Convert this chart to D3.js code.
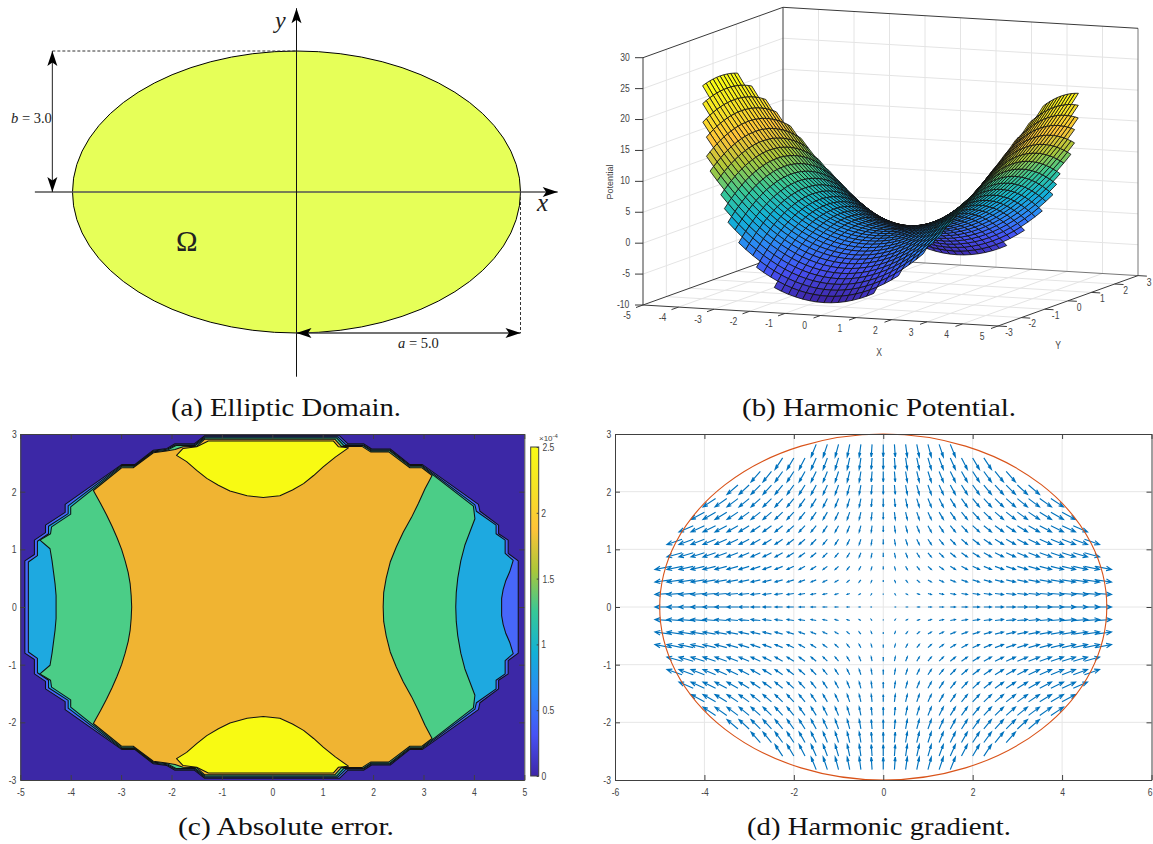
<!DOCTYPE html>
<html>
<head>
<meta charset="utf-8">
<script src="https://cdn.jsdelivr.net/npm/d3@7"></script>
<style>
    html, body { margin: 0; padding: 0; background: #fff; }
    svg { display: block; }
    .caption { font-family: "Liberation Serif", serif; font-size: 26px; fill: #111; }
    .math { font-family: "Liberation Serif", serif; fill: #222; }
    .tick text, .tickLabel {
        font-family: "Liberation Sans", sans-serif; font-size: 11px; fill: #444;
        transform-box: fill-box; transform-origin: center; transform: scaleX(.78);
    }
    .rotatedLabel { font-family: "Liberation Sans", sans-serif; font-size: 9px; fill: #444; }
    .tick line, .domain { stroke: #404040; stroke-width: 1; }
</style>
</head>
<body>
<svg id="chart" width="1153" height="844"></svg>
<script>
// panel (a) domain
const semiAxes = [5, 3];
const axisXExtent = [-5.84, 5.83];
const axisYExtent = [-3.93, 3.91];
const dimensionLeft = -5.45;

// panel (b) surface, half tables, the other half is the same with the sign flipped
const surfaceX = [0, .2, .4, .6, .8, 1, 1.2, 1.4, 1.6, 1.8, 2, 2.2, 2.4, 2.6, 2.8, 3, 3.2, 3.4, 3.6, 3.8, 4, 4.2, 4.4, 4.6, 4.8];
const surfaceY = [0, .15, .3, .45, .6, .75, .9, 1.05, 1.2, 1.35, 1.5, 1.65, 1.8, 1.95, 2.1, 2.25, 2.4, 2.55, 2.7, 2.85];
const potentialByX = [0, .04, .16, .36, .64, 1, 1.44, 1.96, 2.56, 3.24, 4, 4.84, 5.76, 6.76, 7.84, 9, 10.24, 11.56, 12.96, 14.44, 16, 17.64, 19.36, 21.16, 23.04];
const potentialByY = [0, .02, .09, .2, .36, .56, .81, 1.1, 1.44, 1.82, 2.25, 2.72, 3.24, 3.8, 4.41, 5.06, 5.76, 6.5, 7.29, 8.12];
const surfaceRowWidth = [24, 24, 24, 24, 24, 24, 23, 23, 22, 22, 21, 20, 20, 19, 17, 16, 15, 13, 10, 7];
const xTicks3d = [-5, -4, -3, -2, -1, 0, 1, 2, 3, 4, 5];
const yTicks3d = [-3, -2, -1, 0, 1, 2, 3];
const zTicks3d = [-10, -5, 0, 5, 10, 15, 20, 25, 30];

// panel (c) contour outlines, upper half only, mirrored in y when drawn
const contourBlue = [[-4.91, 0], [-4.91, .80], [-4.72, .91], [-4.72, 1.16], [-4.50, 1.29], [-4.50, 1.42], [-4.11, 1.64], [-4.11, 1.78], [-2.99, 2.47], [-2.73, 2.47], [-2.36, 2.72], [-2.09, 2.75], [-1.93, 2.83], [-1.55, 2.83], [-1.34, 2.97], [1.33, 2.97], [1.50, 2.83], [1.81, 2.83], [1.97, 2.74], [2.34, 2.74], [2.73, 2.47], [2.98, 2.47], [4.09, 1.78], [4.12, 1.66], [4.49, 1.42], [4.49, 1.27], [4.68, 1.16], [4.68, .93], [4.88, .80], [4.88, 0]];
const contourSky = [[-4.84, 0], [-4.84, .78], [-4.66, .89], [-4.66, 1.14], [-4.44, 1.27], [-4.44, 1.40], [-4.05, 1.62], [-4.05, 1.755], [-2.99, 2.455], [-2.73, 2.455], [-2.36, 2.705], [-2.09, 2.735], [-1.92, 2.815], [-1.54, 2.815], [-1.34, 2.95], [1.30, 2.95], [1.46, 2.815], [1.80, 2.815], [1.96, 2.725], [2.33, 2.725], [2.73, 2.455], [2.97, 2.455], [4.02, 1.77], [4.05, 1.66], [4.44, 1.42], [4.44, 1.27], [4.62, 1.16], [4.62, .93], [4.78, .81], [4.71, .61], [4.63, .45], [4.58, .30], [4.55, .15], [4.55, 0]];
const contourGreen = [[-4.29, 0], [-4.29, .2], [-4.31, .4], [-4.34, .6], [-4.37, .8], [-4.41, 1.01], [-4.61, 1.16], [-4.40, 1.27], [-4.38, 1.39], [-4.00, 1.61], [-4.00, 1.735], [-2.99, 2.44], [-2.74, 2.44], [-2.36, 2.69], [-2.08, 2.72], [-1.91, 2.80], [-1.53, 2.80], [-1.34, 2.93], [1.28, 2.93], [1.42, 2.80], [1.80, 2.80], [1.96, 2.71], [2.33, 2.71], [2.73, 2.44], [2.97, 2.44], [3.99, 1.75], [4.02, 1.53], [3.92, 1.30], [3.82, 1.07], [3.74, .80], [3.68, .50], [3.65, .25], [3.64, 0]];
const contourOrange = [[-2.79, 0], [-2.80, .2], [-2.82, .4], [-2.86, .6], [-2.92, .8], [-2.99, 1], [-3.08, 1.2], [-3.18, 1.4], [-3.29, 1.6], [-3.41, 1.8], [-3.55, 2.02], [-2.99, 2.415], [-2.76, 2.415], [-2.36, 2.675], [-2.10, 2.705], [-1.93, 2.73], [-1.77, 2.78], [-1.50, 2.785], [-1.34, 2.91], [1.24, 2.91], [1.37, 2.785], [1.78, 2.785], [1.95, 2.69], [2.31, 2.69], [2.73, 2.415], [2.97, 2.415], [3.17, 2.28], [3.03, 2.05], [2.90, 1.80], [2.76, 1.55], [2.60, 1.30], [2.46, 1.04], [2.34, .78], [2.26, .50], [2.21, .25], [2.20, 0]];
const contourYellow = [[-1.90, 2.63], [-1.70, 2.52], [-1.50, 2.37], [-1.30, 2.23], [-1.07, 2.11], [-.84, 2.01], [-.5, 1.93], [-.18, 1.90], [.15, 1.93], [.40, 2.03], [.62, 2.14], [.82, 2.28], [1.01, 2.43], [1.25, 2.60], [1.51, 2.76], [1.31, 2.78], [1.21, 2.88], [-1.27, 2.88], [-1.50, 2.78], [-1.77, 2.75]];
const contourTicksX = [-5, -4, -3, -2, -1, 0, 1, 2, 3, 4, 5];
const contourTicksY = [-3, -2, -1, 0, 1, 2, 3];
const colorbarTicks = [0, .5, 1, 1.5, 2, 2.5];
const parula = ["#3e26a8", "#4752f4", "#2d87f7", "#12b1d6", "#37c897", "#abc739", "#fec338", "#f5e326", "#f9fb15"];

// panel (d) quiver, half tables again
const arrowX = [0, .25, .5, .75, 1, 1.25, 1.5, 1.75, 2, 2.25, 2.5, 2.75, 3, 3.25, 3.5, 3.75, 4, 4.25, 4.5, 4.75];
const arrowY = [0, .235, .47, .705, .94, 1.175, 1.41, 1.645, 1.88, 2.115, 2.35, 2.585, 2.82];
const arrowU = [0, .019, .038, .056, .075, .094, .113, .131, .15, .169, .188, .206, .225, .244, .263, .281, .3, .319, .338, .356];
const arrowV = [0, .018, .036, .054, .072, .09, .108, .126, .144, .162, .18, .198, .216];
const arrowRowWidth = [19, 19, 19, 19, 18, 18, 17, 16, 15, 13, 11, 9, 6];
const gradientTicksX = [-6, -4, -2, 0, 2, 4, 6];
const gradientTicksY = [-3, -2, -1, 0, 1, 2, 3];

const captions = [
    { text: "(a) Elliptic Domain.", x: 171, w: 230, y: 416 },
    { text: "(b) Harmonic Potential.", x: 742, w: 274, y: 416 },
    { text: "(c) Absolute error.", x: 178, w: 216, y: 835 },
    { text: "(d) Harmonic gradient.", x: 747, w: 264, y: 835 }
];

const svg = d3.select("#chart");

svg.selectAll(".caption")
    .data(captions)
    .join("text")
    .attr("class", "caption")
    .attr("x", d => d.x)
    .attr("y", d => d.y)
    .attr("textLength", d => d.w)
    .attr("lengthAdjust", "spacingAndGlyphs")
    .text(d => d.text);

drawDomain();
drawSurface();
drawContours();
drawGradient();

// left, right, top and bottom axes of a boxed MATLAB style plot
function drawBox(g, x, y, ticksX, ticksY) {
    const bottom = g.append("g").attr("transform", `translate(0,${y.range()[0]})`)
        .call(d3.axisBottom(x).tickValues(ticksX).tickSizeInner(-5).tickSizeOuter(0).tickPadding(8).tickFormat(d => d));
    g.append("g").attr("transform", `translate(0,${y.range()[1]})`)
        .call(d3.axisTop(x).tickValues(ticksX).tickSizeInner(-5).tickSizeOuter(0).tickFormat(""));
    g.append("g").attr("transform", `translate(${x.range()[0]},0)`)
        .call(d3.axisLeft(y).tickValues(ticksY).tickSizeInner(-5).tickSizeOuter(0).tickPadding(3).tickFormat(d => d));
    g.append("g").attr("transform", `translate(${x.range()[1]},0)`)
        .call(d3.axisRight(y).tickValues(ticksY).tickSizeInner(-5).tickSizeOuter(0).tickFormat(""));
    return bottom;
}

function drawDomain() {
    const g = svg.append("g");
    const x = d3.scaleLinear().domain([-5, 5]).range([72.5, 520.5]);
    const y = d3.scaleLinear().domain([-3, 3]).range([333, 51]);

    const defs = g.append("defs");
    defs.append("marker")
        .attr("id", "stealth")
        .attr("markerUnits", "userSpaceOnUse")
        .attr("viewBox", "-17 -6 18 12")
        .attr("refX", 0)
        .attr("refY", 0)
        .attr("markerWidth", 18)
        .attr("markerHeight", 12)
        .attr("orient", "auto-start-reverse")
        .append("path")
        .attr("d", "M0,0L-15,-5L-11.5,0L-15,5Z")
        .attr("fill", "#000");

    g.append("ellipse")
        .attr("cx", x(0))
        .attr("cy", y(0))
        .attr("rx", x(semiAxes[0]) - x(0))
        .attr("ry", y(0) - y(semiAxes[1]))
        .attr("fill", "#e6ff58")
        .attr("stroke", "#000")
        .attr("stroke-width", 1);

    // coordinate axes
    g.append("line")
        .attr("x1", x(axisXExtent[0])).attr("x2", x(axisXExtent[1]))
        .attr("y1", y(0)).attr("y2", y(0))
        .attr("stroke", "#555").attr("stroke-width", 1.4)
        .attr("marker-end", "url(#stealth)");
    g.append("line")
        .attr("x1", x(0)).attr("x2", x(0))
        .attr("y1", y(axisYExtent[0])).attr("y2", y(axisYExtent[1]))
        .attr("stroke", "#111").attr("stroke-width", 1)
        .attr("marker-end", "url(#stealth)");

    // dashed guides
    g.append("line")
        .attr("x1", x(dimensionLeft)).attr("x2", x(0))
        .attr("y1", y(semiAxes[1])).attr("y2", y(semiAxes[1]))
        .attr("stroke", "#333").attr("stroke-dasharray", "3,2");
    g.append("line")
        .attr("x1", x(semiAxes[0])).attr("x2", x(semiAxes[0]))
        .attr("y1", y(0)).attr("y2", y(-semiAxes[1]))
        .attr("stroke", "#333").attr("stroke-dasharray", "3,2");

    // double arrows
    g.append("line")
        .attr("x1", x(dimensionLeft)).attr("x2", x(dimensionLeft))
        .attr("y1", y(0)).attr("y2", y(semiAxes[1]))
        .attr("stroke", "#222").attr("stroke-width", 1)
        .attr("marker-start", "url(#stealth)")
        .attr("marker-end", "url(#stealth)");
    g.append("line")
        .attr("x1", x(0)).attr("x2", x(semiAxes[0]))
        .attr("y1", y(-semiAxes[1])).attr("y2", y(-semiAxes[1]))
        .attr("stroke", "#444").attr("stroke-width", 1.3)
        .attr("marker-start", "url(#stealth)")
        .attr("marker-end", "url(#stealth)");

    const label = (txt, px, py, size, style) => g.append("text")
        .attr("class", "math")
        .attr("x", px).attr("y", py)
        .attr("font-size", size)
        .attr("font-style", style || "normal")
        .text(txt);

    label("y", 275, 28, 24, "italic");
    label("x", 537, 211, 25, "italic");
    label("Ω", 176, 251, 29);

    const b = label("", 11, 122.5, 14.5);
    b.append("tspan").attr("font-style", "italic").text("b");
    b.append("tspan").text(" = 3.0");
    const a = label("", 398, 348, 14.5);
    a.append("tspan").attr("font-style", "italic").text("a");
    a.append("tspan").text(" = 5.0");
}

function drawSurface() {
    const g = svg.append("g");

    const xToScreenX = d3.scaleLinear().domain([-5, 5]).range([-177.5, 177.5]);
    const xToScreenY = d3.scaleLinear().domain([-5, 5]).range([-10.5, 10.5]);
    const yToScreenX = d3.scaleLinear().domain([-3, 3]).range([-70, 70]);
    const yToScreenY = d3.scaleLinear().domain([-3, 3]).range([25.2, -25.2]);
    const zToScreenY = d3.scaleLinear().domain([-10, 30]).range([61.8, -185.5]);
    const project = ([px, py, pz]) => [
        890.5 + xToScreenX(px) + yToScreenX(py),
        228.5 + xToScreenY(px) + yToScreenY(py) + zToScreenY(pz)
    ];
    const line3d = d3.line().x(d => project(d)[0]).y(d => project(d)[1]);

    const gridStroke = "#e4e4e4";
    const seg = (a, b, stroke, width) => g.append("path")
        .attr("d", line3d([a, b]))
        .attr("fill", "none")
        .attr("stroke", stroke)
        .attr("stroke-width", width);

    xTicks3d.slice(1, -1).forEach(v => {
        seg([v, 3, -10], [v, 3, 30], gridStroke, 1);
        seg([v, -3, -10], [v, 3, -10], gridStroke, 1);
    });
    yTicks3d.slice(1, -1).forEach(v => {
        seg([-5, v, -10], [-5, v, 30], gridStroke, 1);
        seg([-5, v, -10], [5, v, -10], gridStroke, 1);
    });
    zTicks3d.slice(1, -1).forEach(v => {
        seg([-5, -3, v], [-5, 3, v], gridStroke, 1);
        seg([-5, 3, v], [5, 3, v], gridStroke, 1);
    });

    const dark = "#3a3a3a";
    seg([-5, 3, -10], [-5, 3, 30], dark, 1);
    seg([5, 3, -10], [5, 3, 30], "#777", 1);
    seg([-5, 3, -10], [5, 3, -10], "#777", 1);
    seg([-5, -3, -10], [-5, 3, -10], dark, 1);
    seg([-5, -3, 30], [-5, 3, 30], dark, 1);
    seg([-5, 3, 30], [5, 3, 30], dark, 1);
    seg([-5, -3, -10], [-5, -3, 30], dark, 1);
    seg([-5, -3, -10], [5, -3, -10], dark, 1);
    seg([5, -3, -10], [5, 3, -10], dark, 1);

    xTicks3d.forEach(v => seg([v, -3, -10], [v, -3.3, -10], dark, 1));
    yTicks3d.forEach(v => seg([5, v, -10], [5.25, v, -10], dark, 1));
    zTicks3d.forEach(v => {
        const p = project([-5, -3, v]);
        g.append("line").attr("x1", p[0] - 8).attr("x2", p[0]).attr("y1", p[1]).attr("y2", p[1])
            .attr("stroke", dark);
    });

    const tickText = (txt, p, dx, dy, anchor) => g.append("text")
        .attr("class", "tickLabel")
        .attr("x", p[0] + dx).attr("y", p[1] + dy)
        .attr("text-anchor", anchor || "middle")
        .attr("dominant-baseline", "middle")
        .text(txt);

    xTicks3d.forEach(v => tickText(v, project([v, -3, -10]), -16, 11));
    yTicks3d.forEach(v => tickText(v, project([5, v, -10]), 11, 7));
    zTicks3d.forEach(v => tickText(v, project([-5, -3, v]), -12, 0, "end"));

    g.append("text").attr("class", "tickLabel").attr("x", 879).attr("y", 353)
        .attr("text-anchor", "middle").attr("dominant-baseline", "middle").text("X");
    g.append("text").attr("class", "tickLabel").attr("x", 1058).attr("y", 346)
        .attr("text-anchor", "middle").attr("dominant-baseline", "middle").text("Y");
    g.append("text").attr("class", "rotatedLabel")
        .attr("transform", "translate(611,182) rotate(-90)")
        .attr("text-anchor", "middle").attr("dominant-baseline", "middle").text("Potential");

    // surface cells, only those with all four nodes inside the ellipse
    const columns = d3.range(-(surfaceX.length - 1), surfaceX.length);
    const rows = d3.range(-(surfaceY.length - 1), surfaceY.length);
    const node = (i, j) => [
        Math.sign(i) * surfaceX[Math.abs(i)],
        Math.sign(j) * surfaceY[Math.abs(j)],
        potentialByX[Math.abs(i)] - potentialByY[Math.abs(j)]
    ];
    const inside = (i, j) => Math.abs(i) <= surfaceRowWidth[Math.abs(j)];

    const cells = [];
    columns.slice(0, -1).forEach(i => {
        rows.slice(0, -1).forEach(j => {
            if (inside(i, j) && inside(i + 1, j) && inside(i, j + 1) && inside(i + 1, j + 1)) {
                const corners = [node(i, j), node(i + 1, j), node(i + 1, j + 1), node(i, j + 1)];
                // back to front along the viewing direction
                const depth = d3.mean(corners, c => 1.44 * c[0] - 6.1 * c[1] + .217 * c[2]);
                cells.push({ corners, depth, value: corners[0][2] });
            }
        });
    });
    cells.sort((a, b) => d3.ascending(a.depth, b.depth));

    const colorScale = d3.scaleSequential(d3.piecewise(d3.interpolateRgb, parula))
        .domain([-8.12, 23.04]);

    g.selectAll(".cell")
        .data(cells)
        .join("path")
        .attr("class", "cell")
        .attr("d", d => line3d(d.corners) + "Z")
        .attr("fill", d => colorScale(d.value))
        .attr("stroke", "#111")
        .attr("stroke-width", .85)
        .attr("stroke-linejoin", "round");
}

function drawContours() {
    const g = svg.append("g");
    const x = d3.scaleLinear().domain([-5, 5]).range([20.3, 524.3]);
    const y = d3.scaleLinear().domain([-3, 3]).range([780, 434]);
    const line = d3.line().x(d => x(d[0])).y(d => y(d[1]));
    const mirrored = upper => upper.concat(upper.slice().reverse().map(d => [d[0], -d[1]]));

    g.append("rect")
        .attr("x", x(-5)).attr("y", y(3))
        .attr("width", x(5) - x(-5)).attr("height", y(-3) - y(3))
        .attr("fill", "#3c28a6");

    const zones = [
        { points: mirrored(contourBlue), fill: "#4767fa" },
        { points: mirrored(contourSky), fill: "#1ea9e0" },
        { points: mirrored(contourGreen), fill: "#4bcd87" },
        { points: mirrored(contourOrange), fill: "#f0b432" },
        { points: contourYellow, fill: "#f8fa13" },
        { points: contourYellow.map(d => [d[0], -d[1]]), fill: "#f8fa13" }
    ];

    g.selectAll(".zone")
        .data(zones)
        .join("path")
        .attr("class", "zone")
        .attr("d", d => line(d.points) + "Z")
        .attr("fill", d => d.fill)
        .attr("stroke", "#111")
        .attr("stroke-width", 1.05)
        .attr("stroke-linejoin", "round");

    drawBox(g, x, y, contourTicksX, contourTicksY);

    // colorbar
    const barScale = d3.scaleLinear().domain([0, 2.5]).range([776, 447]);
    const gradient = g.append("defs").append("linearGradient")
        .attr("id", "parulaBar")
        .attr("x1", 0).attr("x2", 0).attr("y1", 1).attr("y2", 0);
    gradient.selectAll("stop")
        .data(parula)
        .join("stop")
        .attr("offset", (d, i) => i / (parula.length - 1))
        .attr("stop-color", d => d);

    g.append("rect")
        .attr("x", 530.7).attr("y", barScale(2.5))
        .attr("width", 8).attr("height", barScale(0) - barScale(2.5))
        .attr("fill", "url(#parulaBar)")
        .attr("stroke", "#404040");

    const barAxis = g.append("g").attr("transform", "translate(538.7,0)")
        .call(d3.axisRight(barScale).tickValues(colorbarTicks).tickSizeInner(-2).tickSizeOuter(0).tickPadding(2).tickFormat(d => d));
    barAxis.select(".domain").remove();

    const exponent = g.append("text").attr("class", "rotatedLabel")
        .attr("x", 539).attr("y", 441).style("font-size", "8px");
    exponent.append("tspan").text("×10");
    exponent.append("tspan").attr("dy", -3).style("font-size", "6px").text("-4");
}

function drawGradient() {
    const g = svg.append("g");
    const x = d3.scaleLinear().domain([-6, 6]).range([615, 1151.5]);
    const y = d3.scaleLinear().domain([-3, 3]).range([780, 434]);

    gradientTicksX.slice(1, -1).forEach(v => {
        g.append("line").attr("x1", x(v)).attr("x2", x(v)).attr("y1", y(-3)).attr("y2", y(3))
            .attr("stroke", "#e6e6e6").attr("stroke-width", 1);
    });
    gradientTicksY.slice(1, -1).forEach(v => {
        g.append("line").attr("x1", x(-6)).attr("x2", x(6)).attr("y1", y(v)).attr("y2", y(v))
            .attr("stroke", "#e6e6e6").attr("stroke-width", 1);
    });

    const arrows = [];
    d3.range(-12, 13).forEach(k => {
        const row = Math.abs(k);
        d3.range(-arrowRowWidth[row], arrowRowWidth[row] + 1).forEach(m => {
            const col = Math.abs(m);
            arrows.push({
                x: Math.sign(m) * arrowX[col],
                y: Math.sign(k) * arrowY[row],
                u: Math.sign(m) * arrowU[col],
                v: -Math.sign(k) * arrowV[row]
            });
        });
    });

    // same barb shape as quiver: alpha and beta of one third
    const alpha = .33, beta = .33;
    const arrowPath = d => {
        const p = d3.path();
        const tx = d.x + d.u, ty = d.y + d.v;
        p.moveTo(x(d.x), y(d.y));
        p.lineTo(x(tx), y(ty));
        p.moveTo(x(tx - alpha * (d.u + beta * d.v)), y(ty - alpha * (d.v - beta * d.u)));
        p.lineTo(x(tx), y(ty));
        p.lineTo(x(tx - alpha * (d.u - beta * d.v)), y(ty - alpha * (d.v + beta * d.u)));
        return p.toString();
    };

    g.selectAll(".arrow")
        .data(arrows)
        .join("path")
        .attr("class", "arrow")
        .attr("d", arrowPath)
        .attr("fill", "none")
        .attr("stroke", "#0072bd")
        .attr("stroke-width", 1.15);

    g.append("ellipse")
        .attr("cx", x(0))
        .attr("cy", y(0))
        .attr("rx", x(semiAxes[0]) - x(0))
        .attr("ry", y(0) - y(semiAxes[1]))
        .attr("fill", "none")
        .attr("stroke", "#d95319")
        .attr("stroke-width", 1.1);

    const bottom = drawBox(g, x, y, gradientTicksX, gradientTicksY);
    // the last label sits right at the page edge
    bottom.selectAll(".tick text").filter(d => d === 6).attr("x", -2);
}
</script>
</body>
</html>
